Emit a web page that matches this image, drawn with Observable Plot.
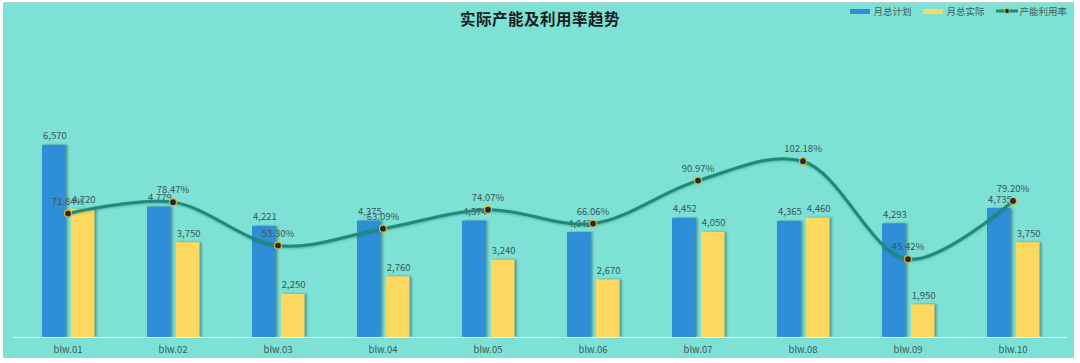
<!DOCTYPE html>
<html>
<head>
<meta charset="utf-8">
<script src="https://cdn.jsdelivr.net/npm/d3@7"></script>
<script src="https://cdn.jsdelivr.net/npm/@observablehq/plot@0.6"></script>
<style>
  html, body { margin: 0; padding: 0; background: #ffffff; }
  #wrap { position: relative; width: 1080px; height: 363px; overflow: hidden; font-family: "Noto Sans CJK SC", "Liberation Sans", sans-serif; }
  #panel { position: absolute; left: 3px; top: 2px; width: 1071px; height: 355px; background: #7DE1D6; border-top: 1px solid #a9d6d0; }
  #title { position: absolute; left: 0; width: 1080px; top: 7px; text-align: center; font-size: 15.5px; font-weight: 700; color: #1b1b1b; letter-spacing: 0.5px; }
  #legend { position: absolute; right: 13px; top: 4px; display: flex; align-items: center; justify-content: flex-end; font-size: 9.5px; color: #4a5a5a; white-space: nowrap; }
  .li { display: flex; align-items: center; margin-left: 12px; white-space: nowrap; flex: none; }
  .sw { width: 20px; height: 5px; margin-right: 3px; flex: none; }
  #chart { position: absolute; left: 0; top: 30px; }
</style>
</head>
<body>
<div id="wrap">
  <div id="panel"></div>
  <div id="title">实际产能及利用率趋势</div>
  <div id="legend"></div>
  <div id="chart"></div>
</div>
<script>
const categories = ["blw.01","blw.02","blw.03","blw.04","blw.05","blw.06","blw.07","blw.08","blw.09","blw.10"];
const planValues = [6570, 4779, 4221, 4375, 4374, 4042, 4452, 4365, 4293, 4735];
const actualValues = [4720, 3750, 2250, 2760, 3240, 2670, 4050, 4460, 1950, 3750];
const rateValues = [0.7184, 0.7847, 0.5330, 0.6309, 0.7407, 0.6606, 0.9097, 1.0218, 0.4542, 0.7920];
const seriesNames = ["月总计划", "月总实际", "产能利用率"];
const leftAxis = [1000, 7000];     // primary axis bounds
const rightAxis = [0, 1.2];        // secondary axis bounds (rate)

const colors = { plan: "#2F8FD6", actual: "#FDD860", line: "#1E8A79", dotFill: "#1C2848", dotStroke: "#E8B321" };

const fmtNum = d3.format(",");
const fmtPct = d3.format(".2%");
// map rate (secondary axis) onto primary axis domain
const toLeft = r => leftAxis[0] + (r - rightAxis[0]) / (rightAxis[1] - rightAxis[0]) * (leftAxis[1] - leftAxis[0]);

const rows = categories.map((c, i) => ({
  cat: c, plan: planValues[i], actual: actualValues[i], rate: rateValues[i], rateY: toLeft(rateValues[i]), base: leftAxis[0]
}));

const W = 1080, H = 333;
const mL = 13, mR = 13;
const band = (W - mL - mR) / categories.length;

const chart = Plot.plot({
  width: W,
  height: H,
  marginLeft: mL,
  marginRight: mR,
  marginTop: 100,
  marginBottom: 26,
  style: { background: "transparent", fontFamily: "'Noto Sans CJK SC', 'Liberation Sans', sans-serif" },
  x: { domain: categories, padding: 0, label: null },
  y: { domain: leftAxis, axis: null },
  marks: [
    Plot.barY(rows, { x: "cat", y1: "base", y2: "plan", fill: colors.plan, insetLeft: band * 0.256, insetRight: band * 0.516 }),
    Plot.barY(rows, { x: "cat", y1: "base", y2: "actual", fill: colors.actual, insetLeft: band * 0.531, insetRight: band * 0.241 }),
    Plot.ruleY([leftAxis[0]], { stroke: "#e8fbf8", strokeWidth: 1 }),
    Plot.text(rows, { x: "cat", y: "plan", text: d => fmtNum(d.plan), dx: -band * 0.124, dy: -9, fontSize: 9.5, fill: "#3a5654" }),
    Plot.text(rows, { x: "cat", y: "actual", text: d => fmtNum(d.actual), dx: band * 0.148, dy: -9, fontSize: 9.5, fill: "#3a5654" }),
    Plot.line(rows, { x: "cat", y: "rateY", stroke: colors.line, strokeWidth: 3, curve: "catmull-rom" }),
    Plot.dot(rows, { x: "cat", y: "rateY", r: 3.5, fill: colors.dotFill, stroke: colors.dotStroke, strokeWidth: 1.2 }),
    Plot.text(rows, { x: "cat", y: "rateY", text: d => fmtPct(d.rate), dy: -12, fontSize: 9.5, fill: "#3a5654" }),
    Plot.axisX({ tickSize: 0, tickPadding: 9, fontSize: 9.5, color: "#3f5856", label: null })
  ]
});

// subtle shadow on bars
chart.querySelectorAll('g[aria-label="bar"]').forEach(g => {
  g.style.filter = "drop-shadow(2px 0px 1.2px rgba(20,60,60,0.45))";
});
chart.querySelectorAll('g[aria-label="line"]').forEach(g => {
  g.style.filter = "drop-shadow(0px 1px 1px rgba(20,60,60,0.3))";
});
document.getElementById("chart").appendChild(chart);

// legend
const legend = document.getElementById("legend");
const items = [
  { name: seriesNames[0], type: "bar", color: colors.plan },
  { name: seriesNames[1], type: "bar", color: colors.actual },
  { name: seriesNames[2], type: "line", color: colors.line }
];
items.forEach(it => {
  const li = document.createElement("div");
  li.className = "li";
  if (it.type === "bar") {
    const sw = document.createElement("div");
    sw.className = "sw";
    sw.style.background = it.color;
    li.appendChild(sw);
  } else {
    const ns = "http://www.w3.org/2000/svg";
    const s = document.createElementNS(ns, "svg");
    s.setAttribute("width", 22); s.setAttribute("height", 8);
    s.style.marginRight = "1px";
    s.style.flex = "none";
    const l = document.createElementNS(ns, "line");
    l.setAttribute("x1", 0); l.setAttribute("x2", 22); l.setAttribute("y1", 4); l.setAttribute("y2", 4);
    l.setAttribute("stroke", it.color); l.setAttribute("stroke-width", 3);
    const c = document.createElementNS(ns, "circle");
    c.setAttribute("cx", 11); c.setAttribute("cy", 4); c.setAttribute("r", 2.5);
    c.setAttribute("fill", colors.dotFill); c.setAttribute("stroke", colors.dotStroke); c.setAttribute("stroke-width", 1);
    s.appendChild(l); s.appendChild(c);
    li.appendChild(s);
  }
  const t = document.createElement("span");
  t.textContent = it.name;
  li.appendChild(t);
  legend.appendChild(li);
});
</script>
</body>
</html>
